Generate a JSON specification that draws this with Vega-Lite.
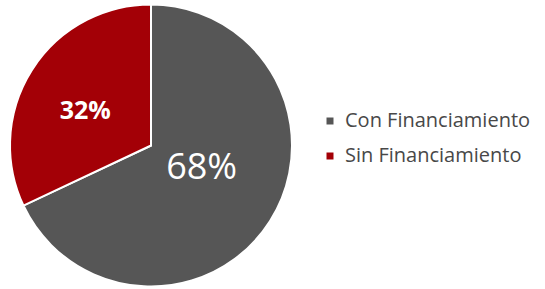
{
  "$schema": "https://vega.github.io/schema/vega-lite/v6.json",
  "width": 302,
  "height": 287,
  "padding": {"left": 0, "top": 0, "right": 0, "bottom": 0},
  "background": "white",
  "config": {"view": {"stroke": null}, "font": "Open Sans"},
  "data": {
    "values": [
      {"categoria": "Con Financiamiento", "valor": 68, "etiqueta": "68%", "orden": 1},
      {"categoria": "Sin Financiamiento", "valor": 32, "etiqueta": "32%", "orden": 2}
    ]
  },
  "encoding": {
    "theta": {"field": "valor", "type": "quantitative", "stack": true},
    "order": {"field": "orden", "type": "quantitative"}
  },
  "layer": [
    {
      "mark": {"type": "arc", "outerRadius": 141, "stroke": "white", "strokeWidth": 2},
      "encoding": {
        "color": {
          "field": "categoria",
          "type": "nominal",
          "scale": {"domain": ["Con Financiamiento", "Sin Financiamiento"], "range": ["#565656", "#A30006"]},
          "legend": {
            "title": null,
            "orient": "none",
            "legendX": 320,
            "legendY": 109,
            "symbolType": "square",
            "symbolSize": 49,
            "labelFontSize": 20,
            "labelColor": "#484848",
            "labelFont": "Open Sans",
            "labelLimit": 0,
            "rowPadding": 15,
            "labelOffset": 5,
            "symbolStrokeWidth": 0
          }
        }
      }
    },
    {
      "mark": {"type": "text", "radius": 79, "dy": 8, "dx": 1, "color": "white", "fontSize": 25, "fontWeight": "bold", "font": "Open Sans"},
      "encoding": {"text": {"condition": {"test": "datum.orden == 2", "field": "etiqueta"}, "value": ""}}
    },
    {
      "mark": {"type": "text", "radius": 60, "dy": -10, "color": "white", "fontSize": 36, "font": "Open Sans"},
      "encoding": {"text": {"condition": {"test": "datum.orden == 1", "field": "etiqueta"}, "value": ""}}
    }
  ]
}
